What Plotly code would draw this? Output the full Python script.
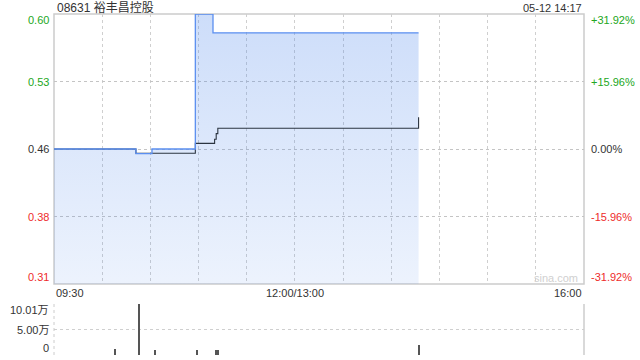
import plotly.graph_objects as go

# ---- data ----
prev_close = 0.455
y_min, y_max = 0.3098, 0.6002
price_minutes = [0, 51, 61, 88, 99, 227]
price_values = [0.455, 0.450, 0.455, 0.600, 0.580, 0.580]
avg_minutes = [0, 51, 88, 100, 101, 102, 226, 227]
avg_values = [0.455, 0.4505, 0.4611, 0.4655, 0.4715, 0.4773, 0.4773, 0.4891]
vol_minutes = [38, 53, 63, 89, 101, 102, 227]
vol_values = [11800, 100100, 9800, 9800, 9800, 9800, 19600]
left_ticks = [0.6002, 0.5276, 0.455, 0.3824, 0.3098]
left_labels = ["0.60", "0.53", "0.46", "0.38", "0.31"]
right_labels = ["+31.92%", "+15.96%", "0.00%", "-15.96%", "-31.92%"]
vol_ticks = [100100, 50050, 0]
vol_labels = ["10.01万", "5.00万", "0"]
time_ticks = [0, 150, 330]
time_labels = ["09:30", "12:00/13:00", "16:00"]
title = "08631 裕丰昌控股"
stamp = "05-12 14:17"

GREEN = "#22a722"
RED = "#ee2b2b"
DARK = "#333333"
FONT = "Liberation Sans, Arial, Noto Sans CJK SC, sans-serif"

x0, x1 = 54 / 640, 584 / 640
main_dom = [1 - 284 / 360, 1 - 14 / 360]
vol_dom = [1 - 355 / 360, 1 - 304 / 360]

fig = go.Figure()
# area fill
fig.add_trace(go.Scatter(
    x=price_minutes, y=price_values, mode="lines", line_shape="hv",
    line=dict(width=0), fill="tozeroy",
    fillgradient=dict(type="vertical", start=y_min, stop=y_max,
                      colorscale=[[0, "rgba(70,130,235,0.10)"], [1, "rgba(70,130,235,0.27)"]]),
    xaxis="x", yaxis="y", hoverinfo="skip"))
# average line
fig.add_trace(go.Scatter(
    x=avg_minutes, y=avg_values, mode="lines", line_shape="hv",
    line=dict(color="#2b3440", width=1.1), xaxis="x", yaxis="y", hoverinfo="skip"))
# price line
fig.add_trace(go.Scatter(
    x=price_minutes, y=price_values, mode="lines", line_shape="hv",
    line=dict(color="#5b8ff0", width=1.3), cliponaxis=False,
    xaxis="x", yaxis="y", hoverinfo="skip"))
# volume
fig.add_trace(go.Bar(
    x=vol_minutes, y=vol_values, width=0.55, marker=dict(color="#555555", line_width=0),
    xaxis="x2", yaxis="y2", hoverinfo="skip"))

grid_x = list(range(30, 330, 30))
fig.update_layout(
    width=640, height=360, margin=dict(l=0, r=0, t=0, b=0),
    paper_bgcolor="white", plot_bgcolor="white", showlegend=False,
    font=dict(family=FONT, size=11, color=DARK),
    xaxis=dict(domain=[x0, x1], range=[0, 330], tickvals=grid_x, showticklabels=False,
               showgrid=True, gridcolor="#cfcfcf", griddash="dot", gridwidth=1,
               zeroline=False, showline=False, ticks=""),
    yaxis=dict(domain=main_dom, range=[y_min, y_max], tickvals=left_ticks[1:4],
               showticklabels=False, showgrid=True, gridcolor="#c4c4c4", griddash="dot",
               zeroline=False, showline=False, ticks=""),
    xaxis2=dict(domain=[x0, x1], range=[0, 330], anchor="y2", showticklabels=False,
                showgrid=False, zeroline=False, ticks=""),
    yaxis2=dict(domain=vol_dom, range=[0, 100100], anchor="x2", tickvals=vol_ticks,
                showticklabels=False, showgrid=True, gridcolor="#cfcfcf", griddash="dot",
                zeroline=False, ticks=""),
    bargap=0,
)

# borders
fig.add_shape(type="rect", xref="paper", yref="paper", x0=x0, x1=x1,
              y0=main_dom[0], y1=main_dom[1], line=dict(color="#cccccc", width=1.5), layer="below")
fig.add_shape(type="line", xref="paper", yref="paper", x0=x1, x1=x1,
              y0=vol_dom[0], y1=vol_dom[1], line=dict(color="#cccccc", width=1.5))
fig.add_shape(type="line", xref="paper", yref="paper", x0=x0, x1=x0,
              y0=vol_dom[0], y1=vol_dom[1], line=dict(color="#cccccc", width=1, dash="dot"))

colors = [GREEN, GREEN, DARK, RED, RED]
shifts = [-6, -1, 0, 0, 7]
for v, lab, rlab, c, s in zip(left_ticks, left_labels, right_labels, colors, shifts):
    fig.add_annotation(xref="paper", yref="y", x=51 / 640, y=v, text=lab, showarrow=False,
                       xanchor="right", yanchor="middle", yshift=s, font=dict(color=c, size=11))
    fig.add_annotation(xref="paper", yref="y", x=589 / 640, y=v, text=rlab, showarrow=False,
                       xanchor="left", yanchor="middle", yshift=s, font=dict(color=c, size=11))

vshifts = [-6, 0, 7]
for v, lab, s in zip(vol_ticks, vol_labels, vshifts):
    fig.add_annotation(xref="paper", yref="y2", x=51 / 640, y=v, text=lab, showarrow=False,
                       xanchor="right", yanchor="middle", yshift=s, font=dict(color=DARK, size=11))

anchors = ["left", "center", "right"]
for t, lab, a in zip(time_ticks, time_labels, anchors):
    fig.add_annotation(xref="x", yref="paper", x=t, y=1 - 293 / 360, text=lab, showarrow=False,
                       xanchor=a, yanchor="middle", font=dict(color=DARK, size=11))

fig.add_annotation(xref="paper", yref="paper", x=55 / 640, y=1 - 7.5 / 360, text=title,
                   showarrow=False, xanchor="left", yanchor="middle",
                   font=dict(color=DARK, size=12))
fig.add_annotation(xref="paper", yref="paper", x=584 / 640, y=1 - 7.5 / 360, text=stamp,
                   showarrow=False, xanchor="right", yanchor="middle",
                   font=dict(color=DARK, size=11))
fig.add_annotation(xref="paper", yref="paper", x=580 / 640, y=1 - 278 / 360, text="sina.com",
                   showarrow=False, xanchor="right", yanchor="middle",
                   font=dict(color="#d0d0d0", size=11))

fig.write_html("out.html")
